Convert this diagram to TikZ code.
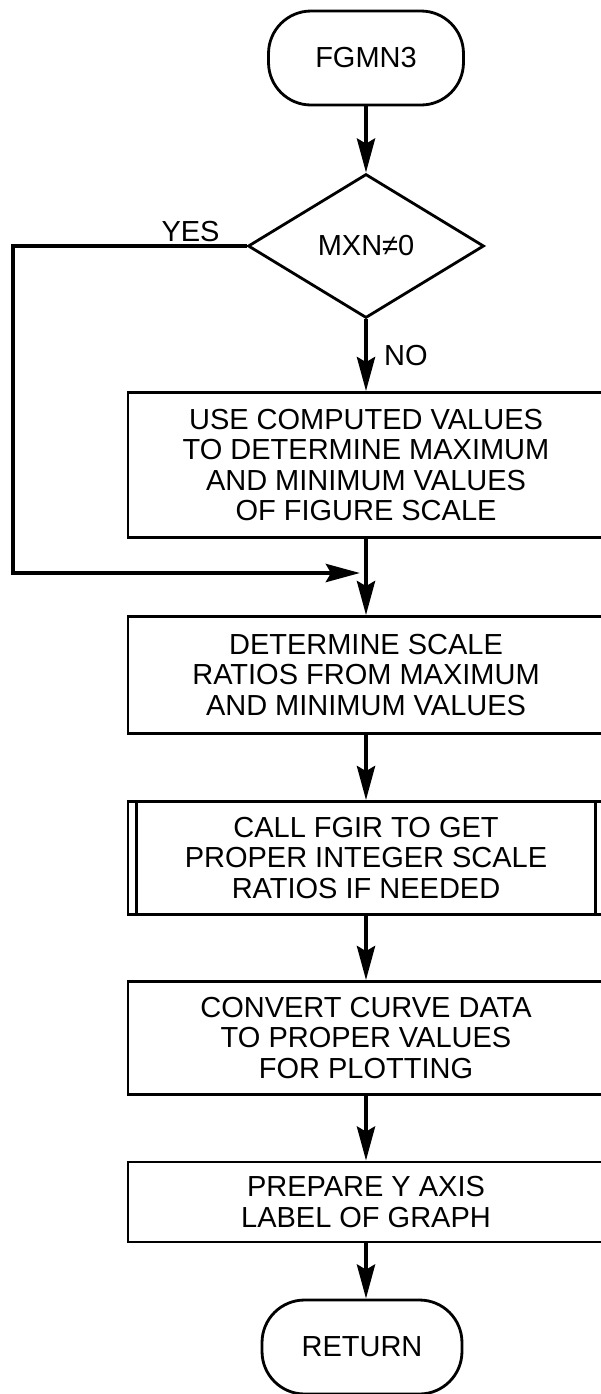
\documentclass[tikz,border=0pt]{standalone}
\usepackage{fontspec}
\setmainfont{Liberation Sans}
\usetikzlibrary{shapes.geometric, arrows.meta}

\begin{document}
\begin{tikzpicture}[x=0.02cm, y=-0.02cm,
    every node/.style={font=\fontsize{16.5}{17.1}\selectfont},
    term/.style={draw, line width=1.6pt, rounded corners=0.85cm, minimum width=3.9cm, minimum height=1.88cm},
    decision/.style={draw, diamond, line width=1.6pt, minimum width=4.72cm, minimum height=2.88cm, inner sep=0pt},
    process/.style={draw, line width=1.6pt, minimum width=9.52cm, align=center},
    flow/.style={line width=2.6pt, -{Stealth[length=0.68cm, width=0.36cm, inset=0.1cm]}}]
    \useasboundingbox (0,0) rectangle (600,1394);

    % Start and test
    \node[term] (start) at (366,58) {FGMN3};
    \node[decision] (test) at (366,246) {MXN≠0};

    % Process boxes
    \node[process, minimum height=2.9cm] (compute) at (366,465) {USE COMPUTED VALUES\\TO DETERMINE MAXIMUM\\AND MINIMUM VALUES\\OF FIGURE SCALE};
    \node[process, minimum height=2.34cm] (ratios) at (366,675) {DETERMINE SCALE\\RATIOS FROM MAXIMUM\\AND MINIMUM VALUES};
    \node[process, minimum height=2.26cm] (fgir) at (366,858) {CALL FGIR TO GET\\PROPER INTEGER SCALE\\RATIOS IF NEEDED};
    \node[process, minimum height=2.26cm] (convert) at (366,1038) {CONVERT CURVE DATA\\TO PROPER VALUES\\FOR PLOTTING};
    \node[process, minimum height=1.6cm] (ylabel) at (366,1202) {PREPARE Y AXIS\\LABEL OF GRAPH};
    \node[term, minimum width=4cm] (return) at (362,1347) {RETURN};

    % Side bars of the subroutine box
    \draw[line width=1.6pt] ([xshift=0.2cm]fgir.north west) -- ([xshift=0.2cm]fgir.south west);
    \draw[line width=1.6pt] ([xshift=-0.2cm]fgir.north east) -- ([xshift=-0.2cm]fgir.south east);

    % Bypass
    \coordinate (join) at (366,573);
    \coordinate (yescorner) at (13,573);

    % Arrows
    \draw[flow] (start.south) -- (test.north);
    \draw[flow] (test.south) -- (compute.north) node[midway, right=0.2cm] {NO};
    \draw[flow] (test.west) -| (yescorner) node[pos=0.12, above, inner sep=1pt] {YES} -- ([xshift=-0.12cm]join);
    \draw[flow] (compute.south) -- (ratios.north);
    \draw[flow] (ratios.south) -- (fgir.north);
    \draw[flow] (fgir.south) -- (convert.north);
    \draw[flow] (convert.south) -- (ylabel.north);
    \draw[flow] (ylabel.south) -- (ylabel.south |- return.north);
\end{tikzpicture}
\end{document}
